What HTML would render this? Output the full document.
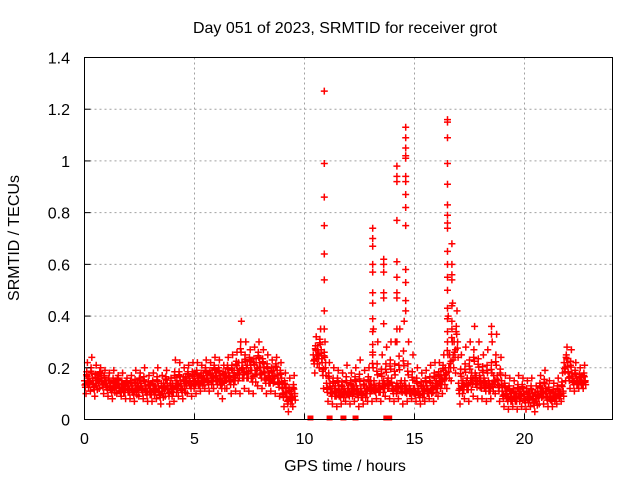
<!DOCTYPE html>
<html><head><meta charset="utf-8"><style>
body{margin:0;background:#fff;width:640px;height:480px;overflow:hidden}
svg text{font-family:"Liberation Sans",sans-serif;fill:#000}
</style></head><body>
<svg id="chart" width="640" height="480" xmlns="http://www.w3.org/2000/svg">
<rect width="640" height="480" fill="#fff"/>
<g id="grid"></g>
<g id="pts"></g>
<rect x="84.5" y="57.5" width="528" height="362" fill="none" stroke="#000"/>
<g id="ticks"></g>
<text x="345" y="33" font-size="16" text-anchor="middle">Day 051 of 2023, SRMTID for receiver grot</text>
<text x="345" y="471" font-size="16" text-anchor="middle">GPS time / hours</text>
<text transform="translate(19,238) rotate(-90)" font-size="16" text-anchor="middle">SRMTID / TECUs</text>
</svg>
<script>
const xTicks=[0,5,10,15,20];
const yTicks=[0,0.2,0.4,0.6,0.8,1,1.2,1.4];
const yTickLabels=["0","0.2","0.4","0.6","0.8","1","1.2","1.4"];
const baseMid=[0.15,0.16,0.14,0.17,0.15,0.14,0.13,0.15,0.12,0.13,0.13,0.12,0.14,0.13,0.12,0.12,0.13,0.11,0.14,0.12,0.14,0.15,0.13,0.16,0.15,0.16,0.15,0.17,0.16,0.18,0.17,0.16,0.18,0.17,0.19,0.22,0.20,0.21,0.19,0.22,0.20,0.18,0.17,0.19,0.16,0.12,0.09,0.10,null,null,null,null,0.25,0.27,0.22,0.14,0.12,0.13,0.11,0.12,0.12,0.13,0.12,0.11,0.13,0.15,0.13,0.14,0.15,0.16,0.13,0.14,0.15,0.13,0.12,0.12,0.11,0.13,0.12,0.14,0.15,0.17,0.20,0.25,0.30,0.14,0.15,0.16,0.18,0.17,0.16,0.15,0.14,0.17,0.15,0.11,0.10,0.09,0.10,0.11,0.09,0.10,0.08,0.11,0.12,0.10,0.09,0.10,0.11,0.22,0.18,0.16,0.15,0.15];
const baseLo=[0.10,0.11,0.09,0.12,0.10,0.09,0.08,0.10,0.09,0.08,0.08,0.07,0.09,0.08,0.07,0.07,0.08,0.06,0.09,0.06,0.07,0.09,0.08,0.10,0.09,0.10,0.11,0.12,0.11,0.12,0.10,0.08,0.12,0.10,0.11,0.10,0.12,0.11,0.10,0.13,0.12,0.10,0.11,0.10,0.09,0.05,0.03,0.05,null,null,null,null,0.18,0.20,0.12,0.07,0.06,0.05,0.06,0.07,0.06,0.07,0.05,0.06,0.07,0.07,0.08,0.07,0.09,0.08,0.07,0.08,0.06,0.07,0.08,0.07,0.06,0.07,0.08,0.07,0.09,0.10,0.12,0.15,0.18,0.06,0.08,0.07,0.09,0.08,0.08,0.07,0.08,0.10,0.07,0.05,0.04,0.05,0.04,0.05,0.04,0.05,0.03,0.06,0.06,0.05,0.05,0.06,0.07,0.15,0.12,0.11,0.12,0.12];
const baseHi=[0.22,0.24,0.21,0.20,0.19,0.18,0.19,0.17,0.18,0.16,0.17,0.19,0.18,0.20,0.17,0.18,0.20,0.17,0.19,0.16,0.23,0.22,0.20,0.21,0.22,0.22,0.21,0.23,0.22,0.24,0.23,0.21,0.24,0.25,0.26,0.38,0.30,0.27,0.28,0.30,0.27,0.25,0.23,0.24,0.22,0.18,0.16,0.17,null,null,null,null,0.32,0.35,0.30,0.22,0.20,0.19,0.18,0.21,0.18,0.20,0.23,0.19,0.20,0.35,0.30,0.25,0.28,0.30,0.30,0.35,0.38,0.30,0.25,0.20,0.18,0.19,0.21,0.22,0.22,0.25,0.40,0.45,0.42,0.25,0.28,0.30,0.36,0.30,0.25,0.27,0.30,0.33,0.24,0.17,0.16,0.15,0.17,0.16,0.15,0.16,0.13,0.17,0.19,0.15,0.14,0.16,0.18,0.28,0.27,0.22,0.20,0.21];
const spikeTimes=[10.9,10.9,10.9,10.9,10.9,10.9,10.9,10.9,13.1,13.1,13.1,13.1,13.1,13.1,13.1,13.1,13.1,13.1,13.1,13.6,13.6,13.6,13.6,13.6,13.6,14.2,14.2,14.2,14.2,14.2,14.2,14.2,14.2,14.2,14.2,14.6,14.6,14.6,14.6,14.6,14.6,14.6,14.6,14.6,14.6,14.6,14.6,14.6,14.6,16.5,16.5,16.5,16.5,16.5,16.5,16.5,16.5,16.5,16.5,16.5,16.5,16.5,16.5,16.5,16.5,16.7,16.7,16.7,16.7,16.7,16.7,16.7,18.5,18.5];
const spikeVals=[1.27,0.99,0.86,0.75,0.64,0.54,0.42,0.35,0.74,0.70,0.67,0.60,0.57,0.49,0.45,0.39,0.34,0.29,0.26,0.62,0.60,0.57,0.49,0.47,0.37,0.98,0.94,0.92,0.77,0.61,0.55,0.49,0.47,0.35,0.30,1.13,1.09,1.05,1.02,1.01,0.94,0.92,0.87,0.82,0.75,0.58,0.53,0.46,0.42,1.16,1.15,1.09,0.99,0.91,0.83,0.79,0.76,0.74,0.65,0.60,0.55,0.50,0.43,0.39,0.34,0.68,0.60,0.56,0.54,0.44,0.38,0.35,0.36,0.33];
const zeroTimes=[10.27,11.14,11.77,12.32,13.72,13.85];
const step=0.2;
const X0=84.5,X1=612.5,Y0=419.5,Y1=57.5;
const xs=v=>X0+(v/24)*(X1-X0);
const ys=v=>Y0-(v/1.4)*(Y0-Y1);
const NS="http://www.w3.org/2000/svg";
const grid=document.getElementById('grid'),ticks=document.getElementById('ticks'),pts=document.getElementById('pts');
function mk(tag,attrs,parent){const e=document.createElementNS(NS,tag);for(const k in attrs)e.setAttribute(k,attrs[k]);parent.appendChild(e);return e;}
yTicks.forEach((v,i)=>{
  const y=ys(v);
  if(i>0&&i<yTicks.length-1){const g=mk('line',{x1:X0,x2:X1,y1:y,y2:y,stroke:'#a0a0a0','stroke-dasharray':'2,3'},grid);
  
  }
  const t=mk('line',{x1:X0,x2:X0+6,y1:y,y2:y,stroke:'#000'},ticks);
  
  
  const l=mk('text',{x:70,y:y+6,'font-size':16,'text-anchor':'end'},ticks);l.textContent=yTickLabels[i];
  
  
});
xTicks.forEach((v,i)=>{
  const x=xs(v);
  if(i>0){const g=mk('line',{x1:x,x2:x,y1:Y1,y2:Y0,stroke:'#a0a0a0','stroke-dasharray':'2,3'},grid);
  
  }
  const t=mk('line',{x1:x,x2:x,y1:Y0,y2:Y0-6,stroke:'#000'},ticks);
  
  
  const l=mk('text',{x:x,y:444,'font-size':16,'text-anchor':'middle'},ticks);l.textContent=String(v);
  
  
});
let d='';
function plus(t,v){const x=xs(t),y=ys(v);d+=`M${(x-3.5).toFixed(1)} ${y.toFixed(1)}h7M${x.toFixed(1)} ${(y-3.5).toFixed(1)}v7`;}
baseMid.forEach((m,i)=>{
  if(m===null)return;
  const t=i*step,lo=baseLo[i],hi=baseHi[i];
  plus(t,m);plus(t+0.04,(lo+m)/2);plus(t+0.07,lo);plus(t+0.1,(m+hi)/2);plus(t+0.13,hi);plus(t+0.16,m);
  plus(t+0.02,(lo+2*m)/3);plus(t+0.09,(hi+2*m)/3);plus(t+0.18,(lo+m)/2);
  plus(t+0.06,(lo+3*m)/4);plus(t+0.12,(hi+3*m)/4);plus(t+0.15,(lo+4*m)/5);
});
spikeTimes.forEach((t,i)=>plus(t,spikeVals[i]));
const p=mk('path',{d:d,stroke:'#ff0000','stroke-width':1.5,fill:'none'},pts);


zeroTimes.forEach(t=>{
  const r=mk('rect',{x:xs(t)-3,y:Y0-4,width:6,height:5,fill:'#ff0000'},pts);
  
  
});
</script>
</body></html>
